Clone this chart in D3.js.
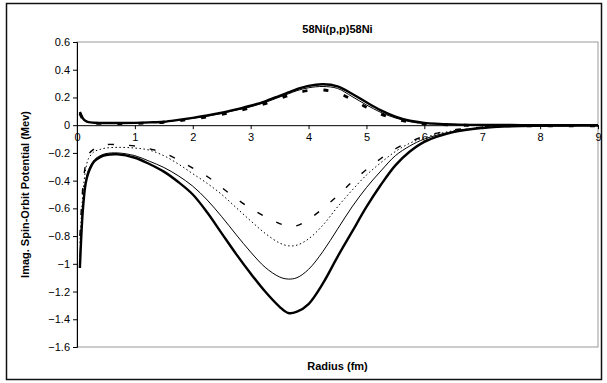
<!DOCTYPE html>
<html>
<head>
<meta charset="utf-8">
<script src="https://cdn.jsdelivr.net/npm/d3@7"></script>
<style>
    body { margin: 0; background: #fff; }
    text { font-family: "Liberation Sans", Arial, sans-serif; }
</style>
</head>
<body>
<div id="chart-container"></div>
<script>
// radius grid (fm)
const radius = [0.05, 0.1, 0.15, 0.2, 0.3, 0.4, 0.5, 0.7, 1.0, 1.25, 1.5, 1.75, 2.0, 2.25, 2.5, 2.75, 3.0, 3.25,
    3.5, 3.65, 3.8, 4.0, 4.25, 4.5, 4.75, 5.0, 5.25, 5.5, 5.75, 6.0, 6.5, 7.0, 7.5, 8.0, 8.5, 9.0]

// positive branch
const upperThick = [0.095, 0.05, 0.03, 0.022, 0.018, 0.016, 0.016, 0.016, 0.017, 0.02, 0.025, 0.038, 0.053, 0.07,
    0.09, 0.114, 0.14, 0.172, 0.212, 0.236, 0.26, 0.284, 0.295, 0.28, 0.227, 0.165, 0.107, 0.062, 0.032, 0.017,
    0.006, 0.002, 0.001, 0, 0, 0]
const upperThin = [0.09, 0.048, 0.029, 0.021, 0.017, 0.015, 0.015, 0.015, 0.016, 0.019, 0.024, 0.036, 0.05, 0.066,
    0.085, 0.108, 0.133, 0.164, 0.203, 0.226, 0.249, 0.27, 0.279, 0.265, 0.207, 0.146, 0.092, 0.052, 0.026, 0.013,
    0.005, 0.002, 0.001, 0, 0, 0]
const upperDashed = [0.085, 0.045, 0.027, 0.02, 0.015, 0.013, 0.012, 0.012, 0.013, 0.016, 0.021, 0.032, 0.045, 0.06,
    0.078, 0.1, 0.125, 0.155, 0.193, 0.214, 0.234, 0.25, 0.254, 0.235, 0.185, 0.13, 0.08, 0.045, 0.022, 0.01,
    0.002, -0.004, -0.005, -0.005, -0.005, -0.005]

// negative branch
const lowerThick = [-1.03, -0.62, -0.42, -0.34, -0.26, -0.23, -0.215, -0.21, -0.235, -0.28, -0.335, -0.41, -0.5,
    -0.63, -0.78, -0.93, -1.07, -1.2, -1.31, -1.355, -1.345, -1.29, -1.14, -0.95, -0.77, -0.59, -0.43, -0.29,
    -0.19, -0.12, -0.05, -0.02, -0.008, -0.004, -0.002, -0.001]
const lowerThin = [-0.95, -0.58, -0.4, -0.32, -0.25, -0.22, -0.205, -0.2, -0.22, -0.26, -0.305, -0.365, -0.44,
    -0.54, -0.66, -0.79, -0.915, -1.025, -1.095, -1.11, -1.1, -1.04, -0.91, -0.75, -0.59, -0.45, -0.33, -0.22,
    -0.15, -0.1, -0.045, -0.02, -0.008, -0.004, -0.002, -0.001]
const lowerDotted = [-0.85, -0.5, -0.32, -0.24, -0.19, -0.175, -0.165, -0.16, -0.165, -0.18, -0.22, -0.28, -0.35,
    -0.42, -0.5, -0.595, -0.69, -0.78, -0.85, -0.87, -0.865, -0.82, -0.72, -0.59, -0.47, -0.36, -0.27, -0.19,
    -0.13, -0.09, -0.04, -0.018, -0.008, -0.004, -0.002, -0.001]
const lowerDashed = [-0.8, -0.45, -0.28, -0.21, -0.17, -0.15, -0.14, -0.14, -0.15, -0.17, -0.2, -0.25, -0.31,
    -0.37, -0.45, -0.53, -0.6, -0.66, -0.71, -0.73, -0.725, -0.68, -0.6, -0.51, -0.41, -0.32, -0.24, -0.17,
    -0.12, -0.08, -0.035, -0.015, -0.007, -0.003, -0.002, -0.001]

const xTicks = [0, 1, 2, 3, 4, 5, 6, 7, 8, 9]
const yTicks = [0.6, 0.4, 0.2, 0, -0.2, -0.4, -0.6, -0.8, -1, -1.2, -1.4, -1.6]

const series = [
    { values: lowerThick, width: 2.4, dash: null },
    { values: lowerThin, width: 1, dash: null },
    { values: lowerDotted, width: 1, dash: '1.5,2.5' },
    { values: lowerDashed, width: 1.4, dash: '6,15' },
    { values: upperThick, width: 2.4, dash: null },
    { values: upperThin, width: 1, dash: null },
    { values: upperDashed, width: 2.8, dash: '5,16' }
]

const width = 607
const height = 383
const margin = { left: 77, right: 9, top: 42, bottom: 36 }

const svg = d3.select('#chart-container')
    .append('svg')
    .attr('width', width)
    .attr('height', height)

const x = d3.scaleLinear().domain([0, 9]).range([margin.left, width - margin.right])
const y = d3.scaleLinear().domain([-1.6, 0.6]).range([height - margin.bottom, margin.top])

// chart area border
svg.append('rect')
    .attr('x', 6.5)
    .attr('y', 3.5)
    .attr('width', 595)
    .attr('height', 376)
    .attr('fill', 'none')
    .attr('stroke', '#111')
    .attr('stroke-width', 1.5)

// plot area border (grey)
svg.append('rect')
    .attr('x', x(0))
    .attr('y', y(0.6))
    .attr('width', x(9) - x(0))
    .attr('height', y(-1.6) - y(0.6))
    .attr('fill', 'none')
    .attr('stroke', '#999')
    .attr('stroke-width', 1)

svg.append('defs').append('clipPath')
    .attr('id', 'plot-clip')
    .append('rect')
    .attr('x', x(0))
    .attr('y', y(0.6))
    .attr('width', x(9) - x(0))
    .attr('height', y(-1.6) - y(0.6))

// y axis
const yAxis = svg.append('g')
    .attr('transform', `translate(${x(0)},0)`)
    .call(d3.axisLeft(y).tickValues(yTicks).tickSize(4).tickPadding(3).tickFormat(d => d3.format('')(+d.toFixed(1))))
yAxis.select('.domain').attr('stroke', '#000')
yAxis.selectAll('text').attr('font-size', 11).attr('fill', '#000')

// x axis crossing at zero
const xAxis = svg.append('g')
    .attr('transform', `translate(0,${y(0)})`)
    .call(d3.axisBottom(x).tickValues(xTicks).tickSize(4).tickPadding(4).tickSizeOuter(0))
xAxis.select('.domain').attr('stroke', '#000')
xAxis.selectAll('text').attr('font-size', 11).attr('fill', '#000')

const line = values => d3.line()
    .x((d, i) => x(radius[i]))
    .y(d => y(d))
    .curve(d3.curveCatmullRom.alpha(0.5))(values)

svg.append('g')
    .attr('clip-path', 'url(#plot-clip)')
    .selectAll('path')
    .data(series)
    .join('path')
    .attr('d', d => line(d.values))
    .attr('fill', 'none')
    .attr('stroke', '#000')
    .attr('stroke-width', d => d.width)
    .attr('stroke-dasharray', d => d.dash)

svg.append('text')
    .attr('x', (x(0) + x(9)) / 2)
    .attr('y', 33)
    .attr('text-anchor', 'middle')
    .attr('font-size', 11)
    .attr('font-weight', 'bold')
    .text('58Ni(p,p)58Ni')

svg.append('text')
    .attr('x', (x(0) + x(9)) / 2)
    .attr('y', 370)
    .attr('text-anchor', 'middle')
    .attr('font-size', 11)
    .attr('font-weight', 'bold')
    .text('Radius (fm)')

svg.append('text')
    .attr('transform', `translate(29,${(y(0.6) + y(-1.6)) / 2}) rotate(-90)`)
    .attr('text-anchor', 'middle')
    .attr('font-size', 11)
    .attr('font-weight', 'bold')
    .text('Imag. Spin-Orbit Potential (Mev)')
</script>
</body>
</html>
